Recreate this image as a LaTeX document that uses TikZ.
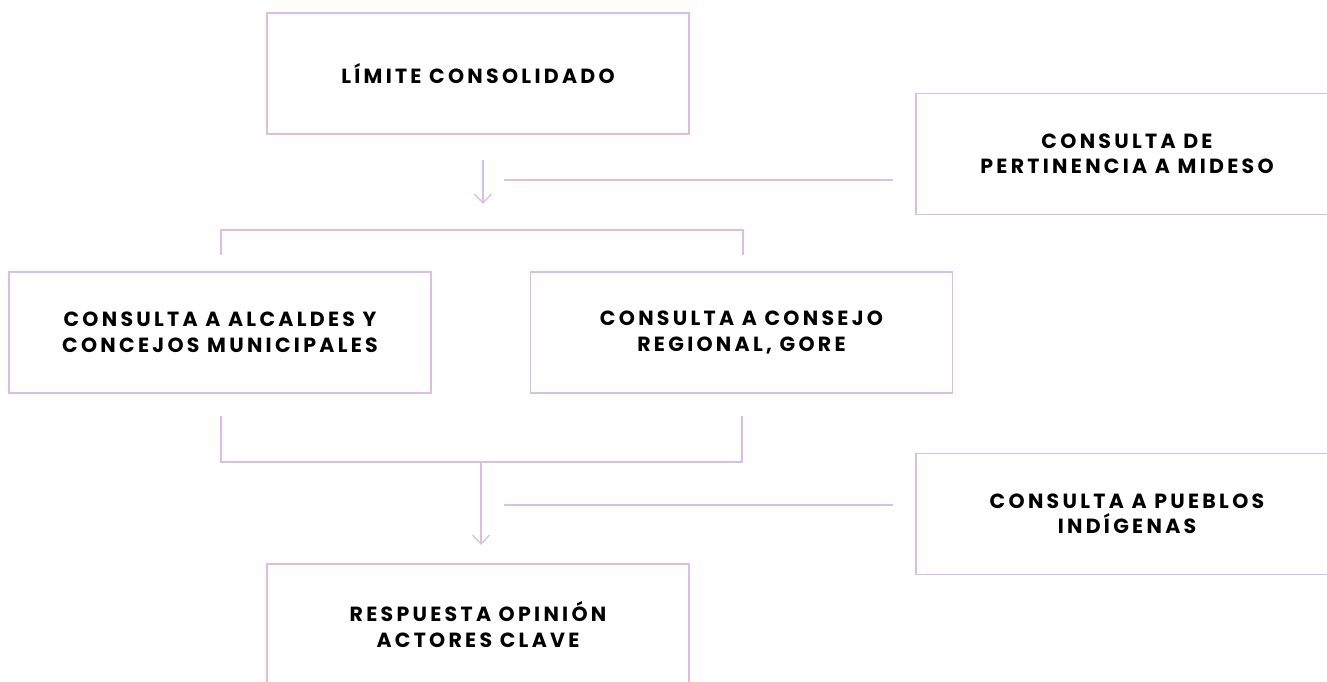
\documentclass[tikz,border=0pt]{standalone}
\usepackage{fontspec}
\setmainfont{Poppins}[UprightFont=* Bold, BoldFont=* Bold]
\usetikzlibrary{arrows.meta}
\definecolor{lila}{RGB}{220,190,226}
\begin{document}
\begin{tikzpicture}[x=1pt,y=-1pt,
  ln/.style={draw=lila,line width=1.3pt},
  arr/.style={ln,-{Straight Barb[length=9pt,width=17pt,line width=1.3pt]}},
  boxnode/.style={draw=lila,line width=1.3pt,minimum width=422pt,minimum height=121pt,
    inner sep=0pt,align=center,font=\fontsize{20.5}{25.5}\selectfont\addfontfeature{LetterSpace=16}}]
\useasboundingbox (0,0) rectangle (1327,682);
\clip (0,0) rectangle (1327,682);
\node[boxnode] (top) at (478,73.5) {LÍMITE CONSOLIDADO};
\node[boxnode] (mideso) at (1127,154) {CONSULTA DE\\PERTINENCIA A MIDESO};
\node[boxnode] (alc) at (220,332.5) {CONSULTA A ALCALDES Y\\CONCEJOS MUNICIPALES};
\node[boxnode] (gore) at (741.5,332.5) {CONSULTA A CONSEJO\\REGIONAL, GORE};
\node[boxnode] (indig) at (1127,514) {CONSULTA A PUEBLOS\\INDÍGENAS};
\node[boxnode] (resp) at (478,624.5) {RESPUESTA OPINIÓN\\ACTORES CLAVE};
\coordinate (a1s) at (483,160);
\coordinate (a1e) at (483,204);
\coordinate (m1) at (893,180);
\coordinate (m2) at (504,180);
\coordinate (b1l) at (221,255);
\coordinate (b1r) at (743,255);
\coordinate (b2l) at (221,416);
\coordinate (b2r) at (742,416);
\coordinate (b2m) at (481,462);
\coordinate (a2e) at (481,545);
\coordinate (n1) at (893,505);
\coordinate (n2) at (504,505);
\draw[arr] (a1s) -- (a1e);
\draw[ln] (m1) -- (m2);
\draw[ln] (b1l) -- ++(0,-25) -| (b1r);
\draw[ln] (b2l) |- (b2m) -| (b2r);
\draw[arr] (b2m) -- (a2e);
\draw[ln] (n1) -- (n2);
\end{tikzpicture}
\end{document}
